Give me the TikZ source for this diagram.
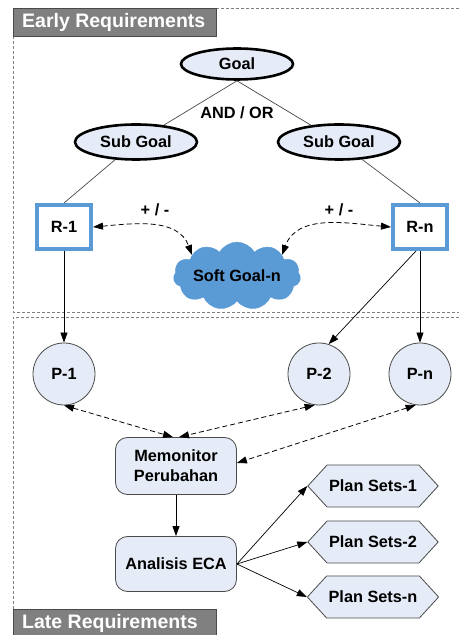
\documentclass[tikz,border=0pt]{standalone}
\usepackage{fontspec}
\setmainfont{Liberation Sans}
\usetikzlibrary{shapes.geometric,shapes.symbols,arrows.meta}
\definecolor{lb}{HTML}{E6ECF7}
\definecolor{cb}{HTML}{5B9BD5}
\definecolor{ln}{HTML}{4A4A4A}
\definecolor{hd}{HTML}{808080}
\begin{document}
\begin{tikzpicture}[x=1pt,y=1pt,
  font=\bfseries\fontsize{16.3}{20}\selectfont,
  goalnode/.style={ellipse, draw=black, line width=2.6pt, fill=lb, minimum width=112pt, minimum height=31pt, inner sep=0pt},
  reqnode/.style={rectangle, draw=cb, line width=4pt, fill=white, minimum width=54pt, minimum height=44pt, inner sep=0pt},
  pnode/.style={circle, draw=ln, line width=0.8pt, fill=lb, minimum size=62pt, inner sep=0pt},
  procnode/.style={rectangle, rounded corners=12pt, draw=ln, line width=0.8pt, fill=lb, minimum width=121pt, align=center, inner sep=0pt},
  plannode/.style={signal, signal to=east and west, signal pointer angle=95, draw=ln, line width=0.8pt, fill=lb, minimum width=127pt, minimum height=42pt, inner sep=2pt},
  cloudnode/.style={cloud, cloud puffs=11, cloud puff arc=120, aspect=2.5, fill=cb, draw=cb, minimum width=119pt, minimum height=48pt, inner sep=0pt},
  hdr/.style={draw=ln, line width=0.8pt, fill=hd},
  hdrtext/.style={text=white, font=\bfseries\fontsize{19.5}{22}\selectfont, anchor=west, inner sep=0pt},
  region/.style={draw=gray, dash pattern=on 3pt off 2pt, line width=0.6pt},
  link/.style={draw=ln, line width=0.7pt},
  arr/.style={draw=black, line width=0.7pt, -{Triangle[length=10pt,width=7pt]}},
  darr/.style={draw=black, line width=0.8pt, dash pattern=on 5pt off 3pt, {Triangle[length=10pt,width=7pt]}-{Triangle[length=10pt,width=7pt]}},
  lbl/.style={inner sep=0pt}
]
\useasboundingbox (0,0) rectangle (459,635);
\clip (0,0) rectangle (459,635);

% regions
\draw[region] (216,627) -- (459,627);
\draw[region] (13,599) -- (13,323) -- (459,323);
\draw[region] (459,318) -- (13,318) -- (13,26);
\draw[hdr] (13,599) rectangle (216,627);
\node[hdrtext] (h1) at (22,613) {Early Requirements};
\draw[hdr] (13,-2) rectangle (216,26);
\node[hdrtext] (h2) at (22,12) {Late Requirements};

% nodes
\node[goalnode] (goal) at (237,571) {Goal};
\node[lbl] (andor) at (237,522) {AND / OR};
\node[goalnode, minimum width=122pt, minimum height=35pt] (sg1) at (136,493) {Sub Goal};
\node[goalnode, minimum width=122pt, minimum height=35pt] (sg2) at (339,493) {Sub Goal};
\node[reqnode] (r1) at (64,408) {R-1};
\node[reqnode] (rn) at (420,408) {R-n};
\node[cloudnode] (soft) at (237,359) {Soft Goal-n};
\node[lbl] (pm1) at (155,425) {+ / -};
\node[lbl] (pm2) at (339,425) {+ / -};
\node[pnode] (p1) at (64,261) {P-1};
\node[pnode] (p2) at (319,261) {P-2};
\node[pnode] (pn) at (420,261) {P-n};
\node[procnode, minimum height=57pt] (mon) at (176,169) {Memonitor\\Perubahan};
\node[procnode, minimum height=55pt] (eca) at (176,71) {Analisis ECA};
\node[plannode] (ps1) at (373,149) {Plan Sets-1};
\node[plannode] (ps2) at (373,93) {Plan Sets-2};
\node[plannode] (psn) at (373,38) {Plan Sets-n};

% connectors
\draw[link] (goal.south) -- (sg1);
\draw[link] (goal.south) -- (sg2);
\draw[link] (sg1) -- (r1.north);
\draw[link] (sg2) -- (rn.north);
\draw[darr] (r1.east) to[out=5,in=110] (soft.155);
\draw[darr] (rn.west) to[out=175,in=70] (soft.25);
\draw[arr] (r1.south) -- (p1.north);
\draw[arr] (rn.south) -- (pn.north);
\draw[arr] ([xshift=-4pt]rn.south) -- (p2.72);
\draw[darr] (p1.south) -- ([xshift=-3pt]mon.north);
\draw[darr] (p2.262) -- ([xshift=3pt]mon.north);
\draw[darr] (pn.262) -- ([yshift=3pt]mon.east);
\draw[arr] (mon.south) -- (eca.north);
\draw[arr] (eca.east) -- (ps1.west);
\draw[arr] (eca.east) -- (ps2.west);
\draw[arr] (eca.east) -- (psn.west);
\end{tikzpicture}
\end{document}
